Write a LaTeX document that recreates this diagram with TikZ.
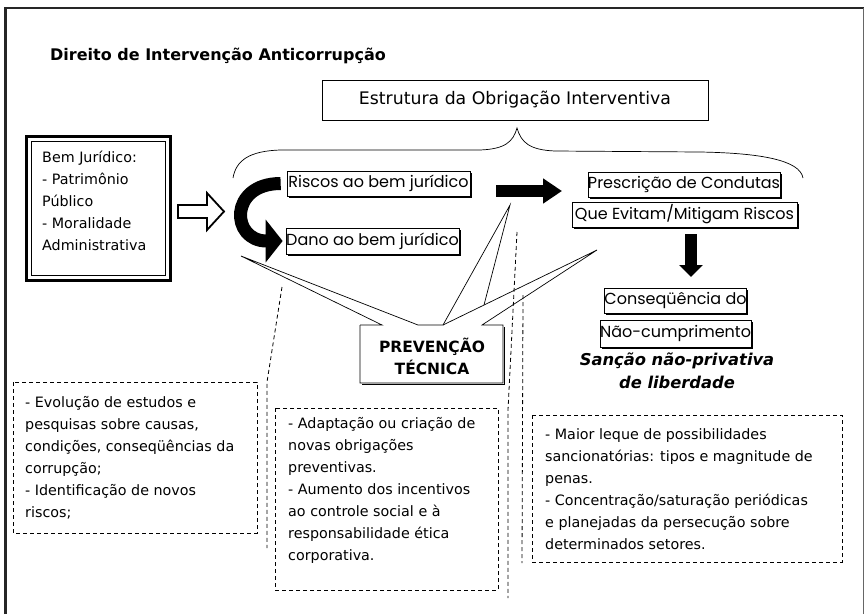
\documentclass[tikz,border=0pt]{standalone}
\usepackage{fontspec}
\setmainfont{DejaVu Sans}
\newfontfamily\boxfont{Poppins}
\usetikzlibrary{arrows.meta,shadows}
\tikzset{
  lbl/.style={draw, line width=0.7pt, fill=white, inner sep=0pt,
    font=\boxfont\fontsize{16}{18}\selectfont,
    drop shadow={shadow xshift=1.6pt, shadow yshift=-1.6pt, fill=black, opacity=1}},
  body/.style={anchor=base west, align=left, inner sep=0pt, font=\fontsize{14.3}{22}\selectfont},
  dbox/.style={line width=0.8pt, dash pattern=on 4pt off 3pt},
  thinline/.style={line width=0.7pt},
  bigarrow/.style={line width=12pt, -{Triangle[length=19pt, width=24pt]}},
}
\begin{document}
\begin{tikzpicture}[x=1pt, y=-1pt]
\useasboundingbox (0,0) rectangle (866,614);
% frame
\draw[line width=3pt, black!85] (5,614) -- (5,8);
\draw[line width=2pt, black!85] (4,8) -- (864,8);
\draw[line width=1pt, black!60] (863,8) -- (863,614);

\node[anchor=base west, inner sep=0pt, font=\bfseries\fontsize{16}{18}\selectfont] (title) at (50,60) {Direito de Intervenção Anticorrupção};

\node[draw, line width=0.8pt, minimum width=386pt, minimum height=40pt, inner sep=0pt,
  font=\fontsize{17.3}{19}\selectfont] (estr) at (515,100) {Estrutura da Obrigação Interventiva};

% brace
\draw[thinline] (233,178) .. controls (236,160) and (250,151) .. (280,150) -- (480,150)
  .. controls (505,149) and (513,142) .. (517,128)
  .. controls (521,142) and (529,150) .. (555,151) -- (700,152)
  .. controls (760,153) and (800,160) .. (803,178);

% Bem juridico box
\draw[line width=2.8pt] (26.5,136.5) rectangle (170.5,280.5);
\draw[line width=0.8pt] (31.5,141.5) rectangle (165.5,275.5);
\node[body] (bem) at (42,250) {Bem Jurídico:\\- Patrimônio\\Público\\- Moralidade\\Administrativa};

% hollow arrow
\draw[line width=1.8pt, fill=white] (178,205) -- (207,205) -- (207,193) -- (224,211.5)
  -- (207,230) -- (207,218) -- (178,218) -- cycle;

% label boxes
\node[lbl, minimum width=183pt, minimum height=25pt] (riscos) at (378.5,183.5) {Riscos ao bem jurídico};
\node[lbl, minimum width=173pt, minimum height=26pt] (dano) at (372.5,241) {Dano ao bem jurídico};
\node[lbl, minimum width=192pt, minimum height=25pt] (prescr) at (684,184.5) {Prescrição de Condutas};
\node[lbl, minimum width=225pt, minimum height=25pt] (queev) at (684.5,214.5) {Que Evitam/Mitigam Riscos};
\node[lbl, minimum width=135pt, minimum height=25pt] (conseq) at (675.5,300.5) {Conseqüência do};
\node[lbl, minimum width=145pt, minimum height=27pt] (naocump) at (675.5,333.5) {Não-cumprimento};

% curved arrow
\draw[line width=13pt, -{Triangle[length=17pt,width=42pt]}]
  ([xshift=-6pt]riscos.west) .. controls +(-52,0) and +(-52,0) .. ([xshift=-3pt]dano.west);

% black arrows
\coordinate (ra1) at (496,191);
\coordinate (ra2) at (562,191);
\draw[bigarrow] (ra1) -- (ra2);
\coordinate (da1) at (691,234);
\coordinate (da2) at (691,277);
\draw[line width=12pt, -{Triangle[length=12pt,width=23pt]}] (da1) -- (da2);

\node[font=\bfseries\itshape\fontsize{16.3}{23}\selectfont, align=center, inner sep=0pt, anchor=base] (sancao) at (677,388) {Sanção não-privativa\\de liberdade};

% callout PREVENCAO TECNICA
\draw[thinline] (360,325) -- (382,325) -- (241,256) -- (418,325) -- (443,325) -- (510,205) -- (484,305);
\draw[thinline] (443,325) -- (597,250) -- (482,325) -- (503,325) -- (503,383) -- (360,383) -- (360,325);
\draw[line width=1.6pt] (504.5,327) -- (504.5,384.5) -- (362,384.5);
\node[font=\bfseries\fontsize{15.5}{22}\selectfont, align=center, inner sep=0pt, anchor=base] (prev) at (432,374) {PREVENÇÃO\\TÉCNICA};

% dashed lines
\draw[dbox] (282,287) -- (267,382) -- (267,548);
\draw[dbox] (517,232) -- (508,410) -- (508,598);
\draw[dbox] (523,295) -- (522,563);

% dashed boxes
\draw[dbox] (13,382) rectangle (257,533);
\draw[dbox] (275,408) rectangle (498,590);
\draw[dbox] (532,415) rectangle (842,562);

\node[body] (t1) at (25,517) {- Evolução de estudos e\\pesquisas sobre causas,\\condições, conseqüências da\\corrupção;\\- Identificação de novos\\riscos;};
\node[body] (t2) at (288,560) {- Adaptação ou criação de\\novas obrigações\\preventivas.\\- Aumento dos incentivos\\ao controle social e à\\responsabilidade ética\\corporativa.};
\node[body] (t3) at (545,549) {- Maior leque de possibilidades\\sancionatórias: tipos e magnitude de\\penas.\\- Concentração/saturação periódicas\\e planejadas da persecução sobre\\determinados setores.};
\end{tikzpicture}
\end{document}
